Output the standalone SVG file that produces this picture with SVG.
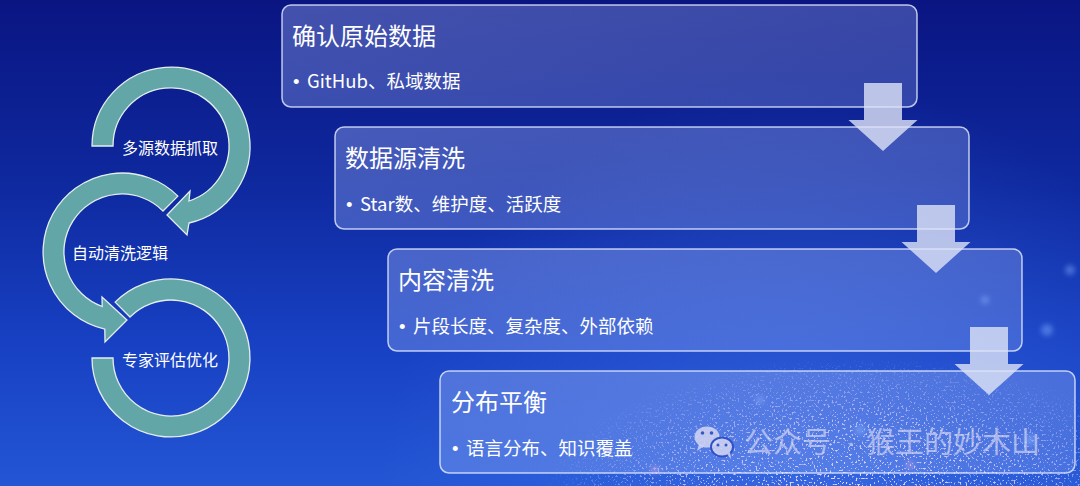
<svg xmlns="http://www.w3.org/2000/svg" width="1080" height="486" viewBox="0 0 1080 486">
  <defs>
    <linearGradient id="bg" x1="0" y1="0" x2="0" y2="1">
      <stop offset="0" stop-color="#0a1582"/>
      <stop offset="0.35" stop-color="#0e279c"/>
      <stop offset="0.7" stop-color="#1740c2"/>
      <stop offset="1" stop-color="#2356d4"/>
    </linearGradient>
    <radialGradient id="glow" cx="800" cy="500" r="420" gradientUnits="userSpaceOnUse">
      <stop offset="0" stop-color="#4a7cf0" stop-opacity="0.45"/>
      <stop offset="1" stop-color="#4a7cf0" stop-opacity="0"/>
    </radialGradient>
    <radialGradient id="sparkMaskGrad" cx="860" cy="500" r="320" gradientUnits="userSpaceOnUse" gradientTransform="translate(860 500) scale(1 0.45) translate(-860 -500)">
      <stop offset="0" stop-color="#fff" stop-opacity="1"/>
      <stop offset="0.55" stop-color="#fff" stop-opacity="0.7"/>
      <stop offset="1" stop-color="#fff" stop-opacity="0"/>
    </radialGradient>
    <mask id="sparkMask">
      <rect x="0" y="0" width="1080" height="486" fill="url(#sparkMaskGrad)"/>
    </mask>
    <filter id="sparkle" x="0" y="0" width="100%" height="100%">
      <feTurbulence type="fractalNoise" baseFrequency="0.5" numOctaves="2" seed="7" result="n"/>
      <feColorMatrix in="n" type="matrix" values="0 0 0 0 0.95  0 0 0 0 0.72  0 0 0 0 0.98  11 0 0 0 -6.6"/>
    </filter>
    <filter id="blur3"><feGaussianBlur stdDeviation="2.5"/></filter>
    <linearGradient id="boxFill" x1="0" y1="0" x2="1" y2="1">
      <stop offset="0" stop-color="#b4c6ff" stop-opacity="0.34"/>
      <stop offset="1" stop-color="#b4c6ff" stop-opacity="0.22"/>
    </linearGradient>
    <style>
      .box { fill: url(#boxFill); stroke: #e6ecff; stroke-opacity: 0.8; stroke-width: 1.5; }
      .title { font-family: "Noto Sans CJK SC", "Noto Sans", sans-serif; font-size: 24px; fill: #ffffff; }
      .bullet { font-family: "Noto Sans CJK SC", "Noto Sans", sans-serif; font-size: 18.5px; fill: #ffffff; }
      .dot { font-family: "Liberation Sans", sans-serif; }
      .flow { fill: #dfe3f6; fill-opacity: 0.8; }
      .arc { fill: #62a6a8; stroke: #e4eeee; stroke-width: 1.3; }
      .cyc { font-family: "Noto Sans CJK SC", "Noto Sans", sans-serif; font-size: 16px; fill: #ffffff; }
      .wm { font-family: "Noto Sans CJK SC", "Noto Sans", sans-serif; font-size: 29px; fill: #d4d6f2; fill-opacity: 0.7; }
      .wmdot { font-family: "Liberation Sans", sans-serif; font-size: 29px; fill: #d4d6f2; fill-opacity: 0.7; }
    </style>
  </defs>

  <!-- background -->
  <rect width="1080" height="486" fill="url(#bg)"/>
  <rect width="1080" height="486" fill="url(#glow)"/>
  <g mask="url(#sparkMask)">
    <rect x="500" y="360" width="580" height="126" filter="url(#sparkle)"/>
  </g>
  <g filter="url(#blur3)" fill="#7fb0ff" fill-opacity="0.45">
    <circle cx="1047" cy="330" r="6"/>
    <circle cx="1070" cy="270" r="5"/>
    <circle cx="985" cy="300" r="4"/>
    <circle cx="860" cy="430" r="5"/>
    <circle cx="760" cy="400" r="4"/>
    <circle cx="1030" cy="440" r="6"/>
    <circle cx="910" cy="465" r="4" fill="#e6a0e0"/>
    <circle cx="655" cy="470" r="4" fill="#e6a0e0"/>
  </g>

  <!-- left cycle -->
  <g id="cycle-arc-1">
    <path class="arc" d="M92,146 A79,79 0 1 1 189,223 L187,235 L167,215 L190,191 L189,201 A58,58 0 1 0 113,146 Z"/>
  </g>
  <g id="cycle-arc-2">
    <path class="arc" d="M177.9,196.1 A79,79 0 1 0 104.8,329.1 L105,342 L127,320 L102,297 L102.2,306.5 A58,58 0 1 1 163,211 Z"/>
  </g>
  <g id="cycle-arc-3">
    <path class="arc" d="M115.1,302.1 A79,79 0 1 1 92,358 L113,358 A58,58 0 1 0 130,317 Z"/>
  </g>
  <g id="cycle-label-1"><text class="cyc" x="122" y="154">多源数据抓取</text></g>
  <g id="cycle-label-2"><text class="cyc" x="72" y="259">自动清洗逻辑</text></g>
  <g id="cycle-label-3"><text class="cyc" x="122" y="366">专家评估优化</text></g>

  <!-- steps -->
  <g id="step-1">
    <rect class="box" x="282" y="5" width="635" height="102" rx="9"/>
    <text class="title" x="292" y="45">确认原始数据</text>
    <text class="bullet" x="293" y="88"><tspan class="dot">•</tspan><tspan x="307">GitHub、私域数据</tspan></text>
  </g>
  <g id="step-2">
    <rect class="box" x="335" y="127" width="634" height="102" rx="9"/>
    <text class="title" x="345" y="167">数据源清洗</text>
    <text class="bullet" x="346" y="211"><tspan class="dot">•</tspan><tspan x="360">Star数、维护度、活跃度</tspan></text>
  </g>
  <g id="step-3">
    <rect class="box" x="388" y="249" width="634" height="102" rx="9"/>
    <text class="title" x="398" y="289">内容清洗</text>
    <text class="bullet" x="399" y="333"><tspan class="dot">•</tspan><tspan x="413">片段长度、复杂度、外部依赖</tspan></text>
  </g>
  <g id="step-4">
    <rect class="box" x="440" y="371" width="635" height="102" rx="9"/>
    <text class="title" x="451" y="411">分布平衡</text>
    <text class="bullet" x="452" y="455"><tspan class="dot">•</tspan><tspan x="466">语言分布、知识覆盖</tspan></text>
  </g>

  <!-- connectors -->
  <g id="connectors">
    <polygon class="flow" points="864,83 902,83 902,120 917.5,120 883,151 848.5,120 864,120"/>
    <polygon class="flow" points="917,205 955,205 955,242 970.5,242 936,273 901.5,242 917,242"/>
    <polygon class="flow" points="970,327 1008,327 1008,364 1023.5,364 989,395 954.5,364 970,364"/>
  </g>

  <!-- watermark -->
  <g id="watermark">
    <g fill="#d4d6f2" fill-opacity="0.85">
      <ellipse cx="707" cy="437" rx="12.5" ry="10.5"/>
      <path d="M699,444 L697,451 L704,446 Z"/>
      <ellipse cx="722" cy="447" rx="11" ry="9.5" stroke="#2f52c8" stroke-width="2"/>
      <path d="M727,454 L731,459 L730,452 Z"/>
    </g>
    <g fill="#3557c9">
      <circle cx="702.5" cy="433" r="1.8"/>
      <circle cx="711.5" cy="433" r="1.8"/>
      <circle cx="718" cy="445" r="1.5"/>
      <circle cx="726" cy="445" r="1.5"/>
    </g>
    <text class="wm" x="744" y="453">公众号</text>
    <text class="wmdot" x="846" y="452">·</text>
    <text class="wm" x="866" y="453">猴王的妙木山</text>
  </g>
</svg>
